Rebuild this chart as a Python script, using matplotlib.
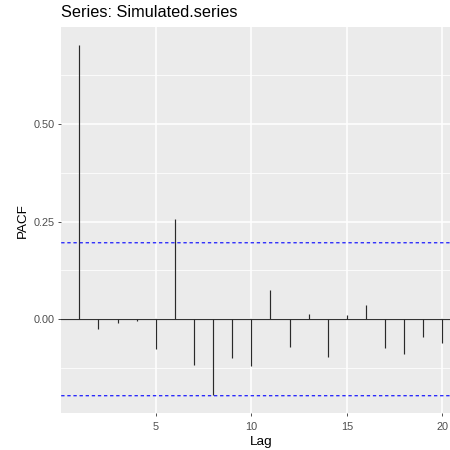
import numpy as np
import matplotlib
matplotlib.use("Agg")
import matplotlib.pyplot as plt
from matplotlib.ticker import FixedLocator

plt.rcParams['font.family'] = ['Liberation Sans', 'DejaVu Sans']

# Partial autocorrelations by lag
lags = list(range(1, 21))
pacf = [0.704, -0.024, -0.010, -0.005, -0.077, 0.256, -0.116, -0.194, -0.100, -0.120,
        0.074, -0.071, 0.013, -0.096, 0.012, 0.036, -0.074, -0.090, -0.045, -0.060]
n_obs = 100
ci = 1.96 / np.sqrt(n_obs)

x_ticks = [5, 10, 15, 20]
y_ticks = [0.0, 0.25, 0.50]
y_tick_labels = ["0.00", "0.25", "0.50"]
y_minor = [-0.125, 0.125, 0.375, 0.625]

W = H = 450
fig = plt.figure(figsize=(4.5, 4.5), dpi=100)
left, right, top, bottom = 61.2, 460.5, 27.0, 413.3
ax = fig.add_axes([left / W, 1 - bottom / H, (right - left) / W, (bottom - top) / H])

# ggplot-like limits with 5% expansion
xmin, xmax = min(lags), max(lags)
dx = (xmax - xmin) * 0.05
ax.set_xlim(xmin - dx, xmax + dx)
ymin = min(min(pacf), -ci)
ymax = max(max(pacf), ci)
dy = (ymax - ymin) * 0.05
ax.set_ylim(ymin - dy, ymax + dy)

ax.set_facecolor('#EBEBEB')
for s in ax.spines.values():
    s.set_visible(False)

ax.yaxis.set_minor_locator(FixedLocator(y_minor))
ax.set_xticks(x_ticks)
ax.set_xticklabels([str(t) for t in x_ticks])
ax.set_yticks(y_ticks)
ax.set_yticklabels(y_tick_labels)
ax.grid(which='major', color='white', linewidth=1.1)
ax.grid(which='minor', axis='y', color='white', linewidth=0.55)
ax.set_axisbelow(True)
ax.tick_params(which='major', length=2.4, width=0.6, color='#333333',
               labelcolor='#4D4D4D', labelsize=7.8)
ax.tick_params(axis='x', which='major', pad=4.2)
ax.tick_params(axis='y', which='major', pad=2.4)
ax.tick_params(which='minor', length=0)

ax.axhline(0, color='#333333', linewidth=0.85, zorder=2)
ax.vlines(lags, 0, pacf, color='#2a2a2a', linewidth=0.85, zorder=3)
for c in (ci, -ci):
    ax.axhline(c, color='#0000FF', linewidth=0.8, linestyle=(0, (3.0, 2.5)),
               zorder=2, snap=False)

ax.set_xlabel('Lag', fontsize=9.7, color='black', labelpad=2.5)
ax.set_ylabel('PACF', fontsize=9.7, color='black', labelpad=3)
fig.text(left / W, 1 - 12.5 / H, 'Series: Simulated.series', fontsize=11.7,
         ha='left', va='center', color='black')

fig.savefig('out.png', dpi=100)
